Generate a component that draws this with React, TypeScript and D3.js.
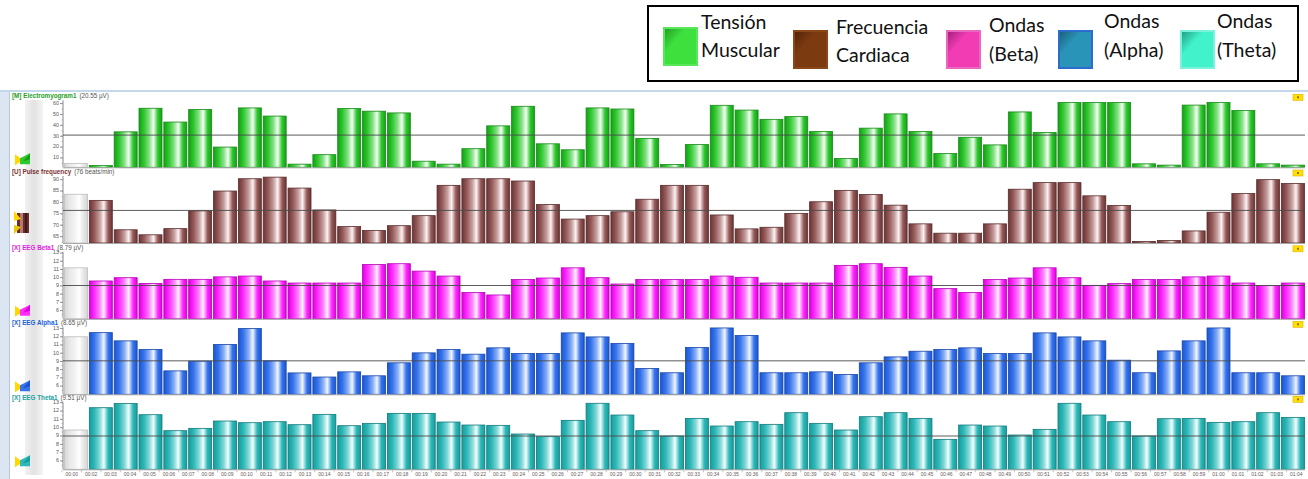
import React from 'react';
import * as d3 from 'd3';

const W = 1308;
const H = 479;

// ---------- DATA ----------
const emgValues = [5, 3, 34, 55.7, 43, 54.5, 20, 56, 48.5, 4.3, 13, 55.4, 53, 51.4, 7, 4.3, 18.5, 39.5, 57.5, 23, 17.5, 56, 55, 28, 4, 22.3, 58.4, 54, 45.5, 48, 34.3, 9.5, 37.4, 50.5, 34.3, 14, 29, 22, 52.3, 33.4, 61, 61, 61, 4.6, 3.4, 58.6, 61, 53.6, 4.6, 3.4];
const pulseValues = [83.6, 80.9, 68, 65.8, 68.5, 76.3, 85, 90.4, 91.1, 86.3, 76.7, 69.4, 67.7, 69.8, 74.2, 87.5, 90.4, 90.4, 89.4, 79.1, 72.7, 74.2, 75.9, 81.4, 87.5, 87.5, 74.5, 68.4, 69.1, 75.2, 80.3, 85.3, 83.5, 78.8, 70.6, 66.5, 66.5, 70.6, 85.8, 88.7, 88.7, 82.9, 78.7, 62.9, 63.3, 67.5, 75.7, 83.9, 90, 88.3];
const betaValues = [11.2, 9.6, 10.0, 9.3, 9.8, 9.8, 10.1, 10.2, 9.6, 9.35, 9.35, 9.35, 11.6, 11.7, 10.8, 10.2, 8.2, 7.9, 9.77, 9.96, 11.2, 10.0, 9.23, 9.77, 9.77, 9.77, 10.2, 10.05, 9.35, 9.35, 9.35, 11.5, 11.7, 11.26, 10.2, 8.67, 8.2, 9.77, 9.96, 11.2, 10.0, 9.07, 9.28, 9.77, 9.77, 10.1, 10.2, 9.35, 9.04, 9.35];
const alphaValues = [12, 12.5, 11.5, 10.45, 7.85, 9.03, 11.06, 13.0, 9.07, 7.6, 7.1, 7.73, 7.25, 8.83, 10.04, 10.45, 9.88, 10.65, 9.96, 9.96, 12.47, 11.98, 11.18, 8.15, 7.62, 10.7, 13.07, 12.15, 7.62, 7.62, 7.73, 7.42, 8.83, 9.55, 10.24, 10.45, 10.65, 9.96, 9.96, 12.47, 11.98, 11.5, 9.15, 7.62, 10.28, 11.5, 13.07, 7.62, 7.62, 7.25];
const thetaValues = [9.72, 12.4, 12.9, 11.56, 9.64, 9.92, 10.8, 10.6, 10.72, 10.36, 11.6, 10.24, 10.52, 11.72, 11.72, 10.68, 10.32, 10.28, 9.24, 8.92, 10.88, 12.93, 11.52, 9.64, 9.0, 11.12, 10.2, 10.72, 10.4, 11.8, 10.52, 9.72, 11.32, 11.8, 11.12, 8.6, 10.32, 10.2, 9.12, 9.8, 12.93, 11.52, 10.72, 9.0, 11.08, 11.12, 10.64, 10.72, 11.8, 11.24];

const seriesTitles = ['[M] Electromyogram1', '[U] Pulse frequency', '[X] EEG Beta1', '[X] EEG Alpha1', '[X] EEG Theta1'];
const seriesReadouts = ['(20.55 µV)', '(76 beats/min)', '(8.79 µV)', '(8.65 µV)', '(9.51 µV)'];
const refValues = [31, 76.5, 9.05, 9.07, 9.0];
const yDomains = [[1.4, 63], [62.2, 91.6], [5, 13.15], [5, 13.15], [5, 13.05]];
const yTicks = [
  [10, 20, 30, 40, 50, 60],
  [65, 70, 75, 80, 85, 90],
  [6, 7, 8, 9, 10, 11, 12, 13],
  [6, 7, 8, 9, 10, 11, 12, 13],
  [6, 7, 8, 9, 10, 11, 12, 13],
];
const legendLabels = [
  ['Tensión', 'Muscular'],
  ['Frecuencia', 'Cardiaca'],
  ['Ondas', '(Beta)'],
  ['Ondas', '(Alpha)'],
  ['Ondas', '(Theta)'],
];
const timeLabels = [
  '00:00', '00:02', '00:03', '00:04', '00:05', '00:06', '00:07', '00:08', '00:09', '00:10',
  '00:11', '00:12', '00:13', '00:14', '00:15', '00:16', '00:17', '00:18', '00:19', '00:20',
  '00:21', '00:22', '00:23', '00:24', '00:25', '00:26', '00:27', '00:28', '00:29', '00:30',
  '00:31', '00:32', '00:33', '00:34', '00:35', '00:36', '00:37', '00:38', '00:39', '00:40',
  '00:41', '00:42', '00:43', '00:44', '00:45', '00:46', '00:47', '00:48', '00:49', '00:50',
  '00:51', '00:52', '00:53', '00:54', '00:55', '00:56', '00:57', '00:58', '00:59', '01:00',
  '01:01', '01:02', '01:03', '01:04',
];

const allSeries = [emgValues, pulseValues, betaValues, alphaValues, thetaValues];

// ---------- STYLE / LAYOUT ----------
const baselines = [167.3, 243.0, 318.8, 394.3, 469.3];
const plotH = 67;
const plotLeft = 63;
const plotRight = 1305;

const palettes = [
  { edge: '#14a014', base: '#30c830', light: '#f4fff4', stroke: '#178a17', title: '#1e9e1e' },
  { edge: '#6a3434', base: '#965a5a', light: '#fff2f2', stroke: '#5a2c2c', title: '#7a3030' },
  { edge: '#dc00dc', base: '#ff2cff', light: '#fff2ff', stroke: '#b800b8', title: '#e020e0' },
  { edge: '#1a55d0', base: '#3774ec', light: '#f0f6ff', stroke: '#1846a8', title: '#2060e0' },
  { edge: '#179c9c', base: '#2eb8b8', light: '#f0ffff', stroke: '#127a7a', title: '#1aa0a0' },
];
const grayPal = { edge: '#d6d6d6', base: '#e8e8e8', light: '#ffffff', stroke: '#bdbdbd' };

const legendFills = [
  { fill: '#3ee03e', dark: '#229a22', stroke: '#5ae65a' },
  { fill: '#7c3a10', dark: '#4e2208', stroke: '#8a4818' },
  { fill: '#f23cb4', dark: '#a01e78', stroke: '#e868c0' },
  { fill: '#2a94b8', dark: '#1a5c78', stroke: '#2c6ccc' },
  { fill: '#42f2ca', dark: '#1e9a80', stroke: '#7af2dc' },
];
const legendSwatchX = [664, 794, 947, 1059, 1181];
const legendTextX = [701, 836, 989, 1104, 1217];
const legendLine1Y = [29, 34, 32, 28, 28];
const legendLine2Y = [57, 62, 61, 57, 57];

const barIndex = d3.range(allSeries[0].length);

function gradStops(p: { edge: string; base: string; light: string }) {
  return [
    { o: '0%', c: p.edge },
    { o: '22%', c: p.base },
    { o: '45%', c: d3.interpolateRgb(p.base, p.light)(0.45) as string },
    { o: '63%', c: p.light },
    { o: '82%', c: p.base },
    { o: '100%', c: p.edge },
  ];
}

export default function App() {
  const x = d3.scaleBand<number>().domain(barIndex).range([64, 1305]).paddingInner(0.075).paddingOuter(0.02);
  const xl = d3.scaleBand<string>().domain(timeLabels).range([62, 1306]);

  return (
    <svg width={W} height={H} style={{ position: 'absolute', left: 0, top: 0, background: '#fff' }}
      fontFamily="'Liberation Sans', Arial, sans-serif">
      <defs>
        {palettes.map((p, i) => (
          <linearGradient key={i} id={`bar${i}`} x1="0" x2="1" y1="0" y2="0">
            {gradStops(p).map((s, j) => <stop key={j} offset={s.o} stopColor={s.c} />)}
          </linearGradient>
        ))}
        <linearGradient id="barGray" x1="0" x2="1" y1="0" y2="0">
          {gradStops(grayPal).map((s, j) => <stop key={j} offset={s.o} stopColor={s.c} />)}
        </linearGradient>
        {legendFills.map((p, i) => (
          <linearGradient key={i} id={`leg${i}`} x1="0" y1="0" x2="1" y2="1">
            <stop offset="0%" stopColor={p.dark} />
            <stop offset="35%" stopColor={p.fill} />
            <stop offset="100%" stopColor={p.fill} />
          </linearGradient>
        ))}
        <linearGradient id="sideCol" x1="0" x2="1" y1="0" y2="0">
          <stop offset="0%" stopColor="#f2f2f2" />
          <stop offset="50%" stopColor="#e2e2e2" />
          <stop offset="100%" stopColor="#f4f4f4" />
        </linearGradient>
      </defs>

      {/* Legend */}
      <rect x={648} y={6} width={650} height={75} fill="#fff" stroke="#000" strokeWidth={2} />
      {legendLabels.map((lbl, i) => (
        <g key={i}>
          <rect x={legendSwatchX[i]} y={i === 0 ? 28 : 31} width={33} height={37}
            fill={`url(#leg${i})`} stroke={legendFills[i].stroke} strokeWidth={2} />
          <text x={legendTextX[i]} y={legendLine1Y[i]} fontFamily="Lato, 'Open Sans', sans-serif" fontSize={19.5} fill="#111">{lbl[0]}</text>
          <text x={legendTextX[i]} y={legendLine2Y[i]} fontFamily="Lato, 'Open Sans', sans-serif" fontSize={19.5} fill="#111">{lbl[1]}</text>
        </g>
      ))}

      {/* Window chrome */}
      <rect x={0} y={90} width={W} height={2} fill="#c5d7ec" />
      <rect x={0} y={92} width={9} height={H - 92} fill="#dbe6f2" />
      <rect x={9} y={92} width={1} height={H - 92} fill="#b8c8dc" />
      <rect x={25} y={100} width={18} height={H - 104} fill="url(#sideCol)" />

      {allSeries.map((vals, p) => {
        const B = baselines[p];
        const y = d3.scaleLinear().domain(yDomains[p]).range([B, B - plotH]);
        const pal = palettes[p];
        const ticks = yTicks[p];
        const step = ticks[1] - ticks[0];
        const minor = d3.range(yDomains[p][0], yDomains[p][1], step / 2)
          .map(v => Math.round(v / (step / 2)) * (step / 2))
          .filter(v => v > yDomains[p][0] && v < yDomains[p][1]);
        return (
          <g key={p}>
            {/* header */}
            <text x={12} y={B - 71} fontSize={6.3} dominantBaseline="middle">
              <tspan fill={pal.title} fontWeight="bold">{seriesTitles[p]}</tspan>
              <tspan fill="#555" dx={3}>{seriesReadouts[p]}</tspan>
            </text>
            {/* right marker */}
            <rect x={1293} y={B - 73} width={10} height={6} fill="#ffe000" stroke="#e0b000" strokeWidth={0.6} />
            <rect x={1297} y={B - 71} width={2} height={2} fill="#a07000" />
            {/* left icon */}
            {p === 1 ? (
              <g>
                <rect x={17} y={B - 30} width={12} height={20} fill="#6a2c2c" />
                <rect x={20} y={B - 30} width={3} height={20} fill="#b87a6a" />
                <rect x={25} y={B - 30} width={2} height={20} fill="#3a1a1a" />
                <polygon points={`${14},${B - 32} ${21},${B - 24} ${14},${B - 22}`} fill="#ffd800" />
                <polygon points={`${14},${B - 18} ${21},${B - 16} ${14},${B - 9}`} fill="#e8c800" />
              </g>
            ) : (
              <g>
                <polygon points={`${15},${B - 13} ${23},${B - 7} ${15},${B - 2}`} fill="#ffd800" />
                <polygon points={`${20},${B - 9} ${30},${B - 14} ${30},${B - 3} ${20},${B - 3}`} fill={pal.base} />
                <polygon points={`${23},${B - 6} ${30},${B - 14} ${30},${B - 8}`} fill={pal.edge} />
              </g>
            )}
            {/* axis */}
            <line x1={plotLeft} x2={plotLeft} y1={B - plotH} y2={B} stroke="#888" strokeWidth={1} />
            {ticks.map(t => (
              <g key={t}>
                <line x1={plotLeft - 3} x2={plotLeft} y1={y(t)} y2={y(t)} stroke="#777" strokeWidth={0.8} />
                <text x={plotLeft - 4} y={y(t)} fontSize={5.3} fill="#555" textAnchor="end" dominantBaseline="middle">{t}</text>
              </g>
            ))}
            {minor.map((t, k) => (
              <line key={k} x1={plotLeft - 1.5} x2={plotLeft} y1={y(t)} y2={y(t)} stroke="#999" strokeWidth={0.6} />
            ))}
            {/* bars */}
            {vals.map((v, i) => {
              const top = y(v);
              return (
                <rect key={i} x={x(i)} y={top} width={x.bandwidth()} height={Math.max(0, B - top)}
                  fill={i === 0 ? 'url(#barGray)' : `url(#bar${p})`}
                  stroke={i === 0 ? grayPal.stroke : pal.stroke} strokeWidth={0.8} />
              );
            })}
            {/* baseline */}
            <line x1={plotLeft} x2={plotRight} y1={B + 0.5} y2={B + 0.5} stroke="#a8a8a8" strokeWidth={1} />
            {/* reference line */}
            <line x1={plotLeft} x2={plotRight} y1={y(refValues[p])} y2={y(refValues[p])} stroke="#4a4a4a" strokeWidth={0.9} />
          </g>
        );
      })}

      {/* time axis */}
      {timeLabels.map((t) => (
        <g key={t}>
          <line x1={(xl(t) as number)} x2={(xl(t) as number)} y1={baselines[4] + 1} y2={baselines[4] + 3} stroke="#999" strokeWidth={0.6} />
          <text x={(xl(t) as number) + xl.bandwidth() / 2} y={baselines[4] + 5} fontSize={5} fill="#6a5a5a"
            textAnchor="middle" dominantBaseline="middle">{t}</text>
        </g>
      ))}
    </svg>
  );
}
